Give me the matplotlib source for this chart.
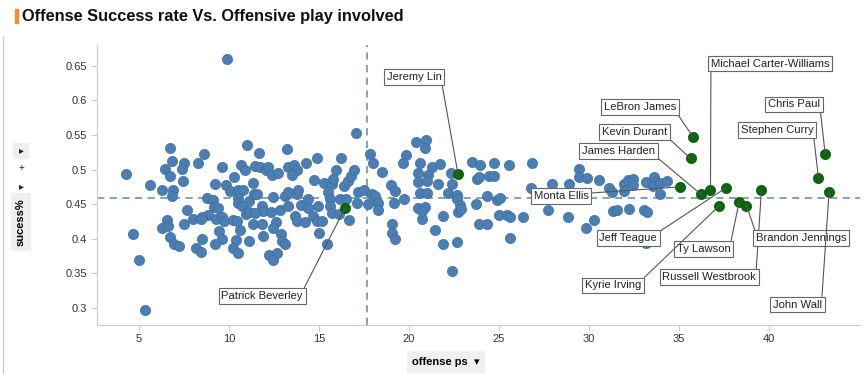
import matplotlib
matplotlib.use('Agg')
import matplotlib.pyplot as plt
from matplotlib.patches import Rectangle
from matplotlib.lines import Line2D

plt.rcParams['font.family'] = ['Liberation Sans', 'DejaVu Sans']

# all players (blue)
xs = [4.28, 6.74, 6.85, 7.52, 7.37, 6.46, 6.70, 5.63, 6.29, 6.90, 6.81, 7.46, 8.29, 8.63, 9.63, 11.02,
      10.67, 10.91, 10.30, 9.24, 9.82, 10.06, 11.33, 10.52, 10.80, 8.76, 9.13, 10.48, 10.52, 11.11, 10.70,
      11.37, 9.15, 9.41, 7.68, 8.81, 8.52, 8.00, 8.44, 9.26, 9.63, 9.74, 10.24, 10.43, 10.96, 11.13, 6.57,
      6.29, 6.63, 7.48, 6.72, 6.96, 7.22, 4.68, 5.02, 8.52, 9.43, 9.59, 9.22, 8.15, 8.44, 10.39, 10.24,
      10.52, 11.11, 11.33, 10.61, 5.35, 9.91,
      11.67, 13.24, 17.07, 11.44, 11.70, 12.03, 12.18, 12.37, 12.74, 13.29, 13.63, 13.76, 13.48, 14.26,
      14.91, 16.24, 14.74, 15.28, 15.70, 15.93, 15.79, 16.41, 16.63, 16.78, 16.93, 17.85, 17.98, 18.48,
      11.54, 12.46, 13.11, 13.29, 13.76, 13.85, 14.41, 15.52, 15.61, 16.17, 16.48, 17.18, 17.52, 17.93,
      18.11, 17.71, 18.26, 18.30, 17.09, 11.85, 11.91, 12.33, 12.83, 13.29, 14.00, 14.37, 14.96, 15.61,
      15.70, 16.11, 16.68, 13.67, 13.76, 14.22, 14.68, 14.87, 15.15, 15.00, 15.43, 11.44, 11.85, 12.59,
      12.46, 11.91, 12.89, 12.96, 13.11, 12.20, 12.67, 12.46,
      20.41, 20.96, 20.89, 19.83, 19.68, 20.61, 21.30, 21.74, 20.52, 21.07, 20.52, 20.98, 21.63, 22.33,
      22.37, 19.00, 19.24, 19.15, 19.74, 20.61, 21.00, 22.15, 22.65, 22.65, 22.83, 22.74, 22.89, 20.52,
      20.89, 20.74, 20.70, 21.91, 21.44, 19.07, 19.07, 19.24, 21.91, 22.68, 22.41, 23.52, 23.96, 24.72,
      25.56, 26.82, 23.76, 23.89, 24.44, 24.69, 23.70, 24.35, 24.91, 25.06, 25.00, 25.46, 25.61, 26.35,
      23.91, 24.31, 25.59, 26.78,
      27.74, 27.93, 28.81, 28.91, 29.46, 29.43, 29.87, 30.56, 29.80, 30.28, 31.11, 31.26, 31.33, 31.56,
      31.94, 31.94, 32.17, 32.41, 32.41, 32.19, 33.06, 33.22, 33.15, 33.59, 33.72, 33.57, 33.96, 33.91,
      34.33, 33.15]
ys = [0.494, 0.531, 0.513, 0.510, 0.501, 0.501, 0.490, 0.478, 0.470, 0.471, 0.462, 0.484, 0.509, 0.523,
      0.503, 0.536, 0.507, 0.499, 0.489, 0.479, 0.478, 0.469, 0.481, 0.470, 0.471, 0.459, 0.456, 0.459,
      0.452, 0.454, 0.447, 0.464, 0.446, 0.445, 0.441, 0.434, 0.432, 0.428, 0.428, 0.428, 0.431, 0.425,
      0.427, 0.426, 0.436, 0.438, 0.427, 0.416, 0.418, 0.422, 0.403, 0.392, 0.390, 0.407, 0.369, 0.400,
      0.411, 0.400, 0.392, 0.386, 0.381, 0.398, 0.387, 0.379, 0.397, 0.422, 0.413, 0.297, 0.660,
      0.524, 0.529, 0.553, 0.505, 0.503, 0.499, 0.504, 0.492, 0.495, 0.503, 0.507, 0.499, 0.492, 0.510,
      0.516, 0.516, 0.485, 0.481, 0.479, 0.499, 0.487, 0.476, 0.484, 0.491, 0.499, 0.523, 0.510, 0.497,
      0.465, 0.460, 0.462, 0.467, 0.464, 0.471, 0.457, 0.467, 0.457, 0.457, 0.458, 0.467, 0.471, 0.465,
      0.462, 0.450, 0.451, 0.441, 0.452, 0.447, 0.440, 0.439, 0.441, 0.447, 0.449, 0.444, 0.447, 0.447,
      0.437, 0.436, 0.427, 0.433, 0.426, 0.424, 0.433, 0.425, 0.425, 0.409, 0.393, 0.437, 0.421, 0.424,
      0.415, 0.404, 0.407, 0.397, 0.392, 0.377, 0.380, 0.370,
      0.540, 0.542, 0.531, 0.521, 0.509, 0.509, 0.503, 0.508, 0.495, 0.492, 0.482, 0.484, 0.479, 0.495,
      0.479, 0.477, 0.469, 0.451, 0.458, 0.466, 0.466, 0.466, 0.463, 0.457, 0.449, 0.439, 0.443, 0.444,
      0.446, 0.429, 0.440, 0.433, 0.413, 0.422, 0.408, 0.400, 0.393, 0.395, 0.354, 0.511, 0.506, 0.510,
      0.507, 0.510, 0.487, 0.489, 0.490, 0.490, 0.450, 0.462, 0.456, 0.459, 0.435, 0.434, 0.431, 0.432,
      0.421, 0.422, 0.401, 0.474,
      0.441, 0.479, 0.431, 0.479, 0.501, 0.489, 0.488, 0.485, 0.415, 0.427, 0.474, 0.468, 0.440, 0.441,
      0.479, 0.469, 0.485, 0.486, 0.478, 0.443, 0.441, 0.439, 0.482, 0.489, 0.482, 0.476, 0.480, 0.465,
      0.484, 0.394]

# highlighted players
names = ['Jeremy Lin', 'Patrick Beverley', 'LeBron James', 'Kevin Durant', 'James Harden', 'Monta Ellis',
         'Michael Carter-Williams', 'Chris Paul', 'Stephen Curry', 'Jeff Teague', 'Ty Lawson',
         'Kyrie Irving', 'Russell Westbrook', 'Brandon Jennings', 'John Wall']
hx = [22.72, 16.43, 35.76, 35.64, 36.22, 35.07, 36.74, 43.11, 42.74, 37.63, 38.33, 37.24, 39.57, 38.74, 43.33]
hy = [0.493, 0.444, 0.5475, 0.516, 0.464, 0.475, 0.470, 0.523, 0.488, 0.474, 0.453, 0.448, 0.470, 0.448, 0.468]
# label box centres
lx = [20.28, 11.83, 32.83, 32.53, 31.64, 28.44, 40.06, 41.39, 40.44, 32.17, 36.36, 31.33, 36.67, 41.78, 41.56]
ly = [0.634, 0.3175, 0.590, 0.554, 0.527, 0.4615, 0.653, 0.594, 0.557, 0.401, 0.3856, 0.3326, 0.345, 0.401, 0.305]
rel = [(1, 0), (1, 1), (1, 0), (1, 0), (1, 0), (1, 0.8), (0, 0), (1, 0), (1, 0), (1, 1), (1, 1),
       (1, 1), (1, 1), (0, 1), (1, 1)]

avg_x = 17.67
avg_y = 0.4586

xticks = [5, 10, 15, 20, 25, 30, 35, 40]
yticks = [0.3, 0.35, 0.4, 0.45, 0.5, 0.55, 0.6, 0.65]
ytick_labels = ['0.3', '0.35', '0.4', '0.45', '0.5', '0.55', '0.6', '0.65']

fig = plt.figure(figsize=(8.67, 3.74), dpi=100)
ax = fig.add_axes([0.112, 0.131, 0.880, 0.749])

ax.axvline(avg_x, color='#7b9bb8', ls=(0, (4, 3)), lw=1.3, zorder=1)
ax.axhline(avg_y, color='#7b9bb8', ls=(0, (4, 3)), lw=1.3, zorder=1)

ax.scatter(xs, ys, s=54, color='#4b7fb3', edgecolors='#3d6d9e', linewidths=0.5, zorder=2)
ax.scatter(hx, hy, s=54, color='#0a680a', edgecolors='#064d06', linewidths=0.5, zorder=4)

for i in range(len(names)):
    ax.annotate(names[i], xy=(hx[i], hy[i]), xytext=(lx[i], ly[i]), textcoords='data',
                ha='center', va='center', fontsize=8.1, color='#222222', zorder=5,
                bbox=dict(boxstyle='square,pad=0.25', fc='white', ec='#666666', lw=0.8),
                arrowprops=dict(arrowstyle='-', color='#555555', lw=0.8, shrinkA=0, shrinkB=0,
                                relpos=rel[i]))

ax.set_xlim(2.67, 45.05)
ax.set_ylim(0.2755, 0.68)
ax.set_xticks(xticks)
ax.set_yticks(yticks)
ax.set_yticklabels(ytick_labels)
ax.tick_params(labelsize=8, colors='#333333', length=4, width=0.8)
ax.tick_params(axis='both', color='#cccccc')
for s in ['top', 'right']:
    ax.spines[s].set_visible(False)
for s in ['left', 'bottom']:
    ax.spines[s].set_color('#cccccc')
ax.tick_params(axis='x', pad=2.5)

# title with orange marker
fig.patches.append(Rectangle((15 / 867, 1 - 23 / 374), 3 / 867, 14 / 374, transform=fig.transFigure,
                             color='#f28e2b', zorder=3))
fig.text(22 / 867, 1 - 16 / 374, 'Offense Success rate Vs. Offensive play involved', fontsize=11.8,
         fontweight='bold', va='center', ha='left', color='#111111')

# frame line at the left edge
fig.add_artist(Line2D([3 / 867, 3 / 867], [0, 1 - 36 / 374], transform=fig.transFigure, color='#cccccc', lw=1))

# axis titles on grey pills, like the dashboard
fig.text(446 / 867, 1 - 362 / 374, 'offense ps  \u25BE', fontsize=8, fontweight='bold', ha='center', va='center',
         bbox=dict(boxstyle='square,pad=0.5', fc='#efefef', ec='none'))
fig.text(21 / 867, 1 - 222 / 374, 'sucess%', fontsize=8, fontweight='bold', rotation=90, ha='center',
         va='center', bbox=dict(boxstyle='square,pad=0.45', fc='#efefef', ec='none'))
fig.patches.append(Rectangle((13 / 867, 1 - 158 / 374), 15 / 867, 15 / 374, transform=fig.transFigure,
                             color='#efefef'))
fig.text(21 / 867, 1 - 150 / 374, '\u25B8', fontsize=7, ha='center', va='center', color='#222222')
fig.text(21 / 867, 1 - 168 / 374, '+', fontsize=7, ha='center', va='center', color='#222222')
fig.text(21 / 867, 1 - 186 / 374, '\u25B8', fontsize=7, ha='center', va='center', color='#222222')

fig.savefig('out.png', dpi=100)
